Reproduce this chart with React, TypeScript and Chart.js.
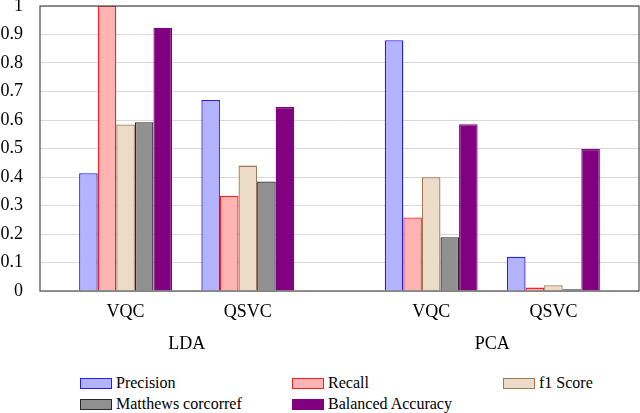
import React, { useEffect, useRef } from 'react';
import { Chart, registerables } from 'chart.js';

Chart.register(...registerables);

// x positions on a linear axis leave a wider gap between the LDA and PCA groups
const categories = ['VQC', 'QSVC', 'VQC', 'QSVC'];
const categoryPositions = [0, 1, 2.5, 3.5];
const groups = ['LDA', 'PCA'];
const groupPositions = [0.5, 3.0];

const precision = [0.413, 0.67, 0.88, 0.12];
const recall = [1.0, 0.334, 0.258, 0.012];
const f1Score = [0.584, 0.44, 0.399, 0.02];
const matthews = [0.592, 0.384, 0.189, 0.006];
const balancedAccuracy = [0.924, 0.646, 0.585, 0.498];

const yTickLabels = ['0', '0.1', '0.2', '0.3', '0.4', '0.5', '0.6', '0.7', '0.8', '0.9', '1'];

const FONT = '"Liberation Serif", "Times New Roman", serif';

const series = [
  { label: 'Precision', values: precision, fill: 'rgb(179,179,255)', stroke: 'rgb(30,30,255)' },
  { label: 'Recall', values: recall, fill: 'rgb(255,179,179)', stroke: 'rgb(255,30,30)' },
  { label: 'f1 Score', values: f1Score, fill: 'rgb(236,219,198)', stroke: 'rgb(160,120,85)' },
  { label: 'Matthews corcorref', values: matthews, fill: 'rgb(145,145,145)', stroke: 'rgb(40,40,40)' },
  { label: 'Balanced Accuracy', values: balancedAccuracy, fill: 'rgb(128,0,128)', stroke: 'rgb(128,0,128)' },
];

// box around the plot area
const framePlugin = {
  id: 'frame',
  afterDatasetsDraw(chart: any) {
    const { ctx, chartArea } = chart;
    ctx.save();
    ctx.strokeStyle = '#4d4d4d';
    ctx.lineWidth = 1.2;
    ctx.strokeRect(chartArea.left, chartArea.top, chartArea.right - chartArea.left, chartArea.bottom - chartArea.top);
    ctx.restore();
  },
};

const legendCols = [80, 292, 503];
const legendRows = [377, 398];

export default function App() {
  const canvasRef = useRef<HTMLCanvasElement | null>(null);
  const chartRef = useRef<Chart | null>(null);

  useEffect(() => {
    if (!canvasRef.current) return;
    const ctx = canvasRef.current.getContext('2d');
    if (!ctx) return;

    chartRef.current = new Chart(ctx, {
      type: 'bar',
      data: {
        datasets: series.map((s) => ({
          label: s.label,
          data: s.values.map((v, i) => ({ x: categoryPositions[i], y: v })),
          backgroundColor: s.fill,
          borderColor: s.stroke,
          borderWidth: 1.3,
          categoryPercentage: 0.76,
          barPercentage: 1,
        })),
      },
      options: {
        animation: false,
        responsive: true,
        maintainAspectRatio: false,
        layout: { padding: { top: 6, right: 1, left: 0, bottom: 0 } },
        plugins: {
          legend: { display: false },
          tooltip: { enabled: false },
        },
        scales: {
          x: {
            type: 'linear',
            position: 'bottom',
            min: -0.7,
            max: 4.2,
            offset: false,
            weight: 0,
            grid: { display: false, drawTicks: false },
            border: { display: false },
            afterBuildTicks: (scale: any) => {
              scale.ticks = categoryPositions.map((v) => ({ value: v }));
            },
            afterFit: (scale: any) => {
              scale.height = 33;
              scale.paddingLeft = 0;
              scale.paddingRight = 0;
            },
            ticks: {
              autoSkip: false,
              maxRotation: 0,
              padding: 10,
              color: '#000',
              font: { family: FONT, size: 18 },
              callback: (_v: any, i: number) => categories[i],
            },
          },
          x2: {
            type: 'linear',
            position: 'bottom',
            min: -0.7,
            max: 4.2,
            offset: false,
            weight: 1,
            grid: { display: false, drawTicks: false },
            border: { display: false },
            afterBuildTicks: (scale: any) => {
              scale.ticks = groupPositions.map((v) => ({ value: v }));
            },
            afterFit: (scale: any) => {
              scale.height = 36;
              scale.paddingLeft = 0;
              scale.paddingRight = 0;
            },
            ticks: {
              autoSkip: false,
              maxRotation: 0,
              padding: 9,
              color: '#000',
              font: { family: FONT, size: 18 },
              callback: (_v: any, i: number) => groups[i],
            },
          },
          y: {
            min: 0,
            max: 1,
            grid: { color: '#d9d9d9', lineWidth: 1, drawTicks: false },
            border: { display: false },
            afterFit: (scale: any) => {
              scale.width = 40;
              scale.paddingTop = 0;
              scale.paddingBottom = 0;
            },
            ticks: {
              stepSize: 0.1,
              padding: 17,
              color: '#000',
              font: { family: FONT, size: 18 },
              callback: (_v: any, i: number) => yTickLabels[i],
            },
          },
        },
      } as any,
      plugins: [framePlugin],
    });

    return () => {
      if (chartRef.current) {
        chartRef.current.destroy();
        chartRef.current = null;
      }
    };
  }, []);

  return (
    <div style={{ position: 'absolute', left: 0, top: 0, width: 640, height: 413, background: '#fff', fontFamily: FONT }}>
      <div style={{ position: 'absolute', left: 0, top: 0, width: 640, height: 360 }}>
        <canvas ref={canvasRef} />
      </div>
      {series.map((s, i) => (
        <div
          key={s.label}
          style={{
            position: 'absolute',
            left: legendCols[i % 3],
            top: legendRows[Math.floor(i / 3)],
            height: 12,
            display: 'flex',
            alignItems: 'center',
            whiteSpace: 'nowrap',
          }}
        >
          <span
            style={{
              display: 'inline-block',
              boxSizing: 'border-box',
              width: 32,
              height: 11,
              background: s.fill,
              border: `1.3px solid ${s.stroke}`,
              marginRight: 4,
            }}
          />
          <span style={{ fontSize: 16, lineHeight: '12px', color: '#000' }}>{s.label}</span>
        </div>
      ))}
    </div>
  );
}
